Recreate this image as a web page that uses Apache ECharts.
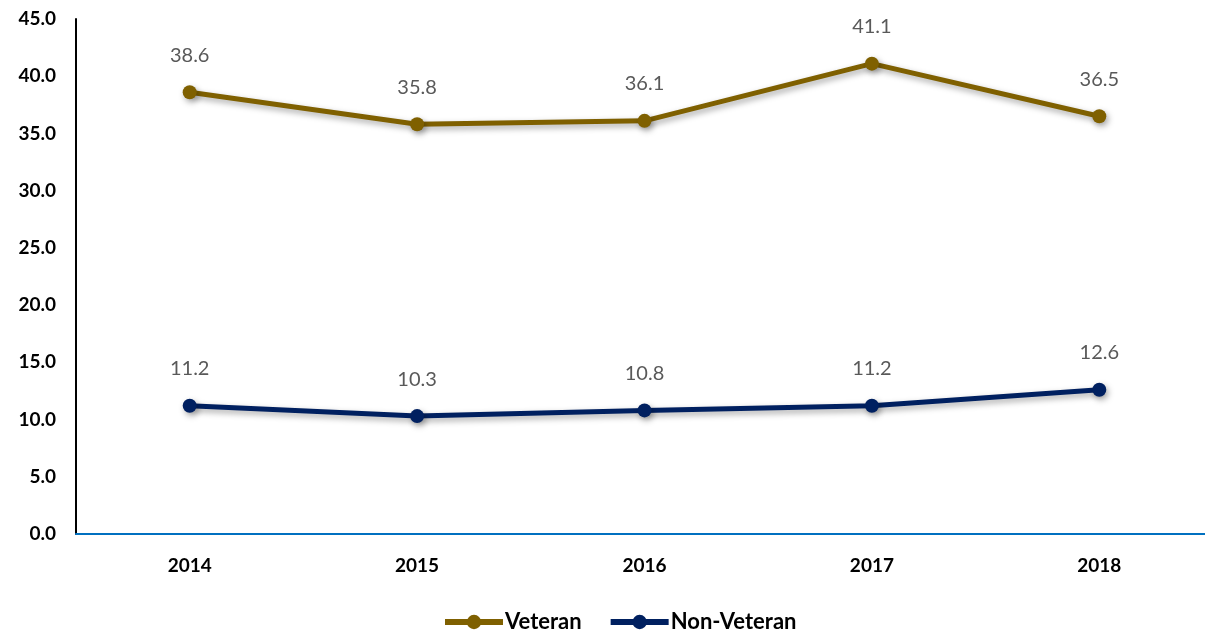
<!DOCTYPE html>
<html><head><meta charset="utf-8">
<script src="https://cdn.jsdelivr.net/npm/echarts@6/dist/echarts.min.js"></script>
<style>html,body{margin:0;padding:0;background:#fff;overflow:hidden}#c{width:1215px;height:630px}</style>
</head><body><div id="c"></div>
<script>
const categories = ['2014','2015','2016','2017','2018'];
const veteran = [38.6, 35.8, 36.1, 41.1, 36.5];
const nonVeteran = [11.2, 10.3, 10.8, 11.2, 12.6];
const seriesNames = ['Veteran','Non-Veteran'];
const colors = ['#7F6000','#002060'];
const FONT = 'Lato, "Open Sans", sans-serif';

const chart = echarts.init(document.getElementById('c'));
function mk(name, data, color){
  return {
    name, type:'line', data, color,
    symbol:'circle', symbolSize:14,
    lineStyle:{width:5, color, shadowColor:'rgba(0,0,0,0.35)', shadowBlur:6, shadowOffsetX:2, shadowOffsetY:3},
    itemStyle:{color, shadowColor:'rgba(0,0,0,0.35)', shadowBlur:6, shadowOffsetX:2, shadowOffsetY:3},
    label:{show:true, position:'top', distance:20, color:'#595959', fontSize:20, fontFamily:FONT,
      formatter:p=>p.value.toFixed(1)},
    emphasis:{disabled:true}, animation:false
  };
}
chart.setOption({
  animation:false,
  grid:{left:76, right:2, top:19, bottom:96},
  legend:{top:606, left:437, itemWidth:58, itemHeight:18, itemGap:26,
    lineStyle:{width:6, shadowBlur:0, shadowOffsetX:0, shadowOffsetY:0},
    itemStyle:{shadowBlur:0, shadowOffsetX:0, shadowOffsetY:0},
    textStyle:{fontFamily:FONT, fontWeight:'bold', fontSize:22, color:'#000', padding:[0,0,0,-3]},
    data:seriesNames},
  xAxis:{type:'category', data:categories, boundaryGap:true,
    axisLine:{lineStyle:{color:'#0070C0', width:2}}, axisTick:{show:false},
    axisLabel:{fontFamily:FONT, fontWeight:'bold', fontSize:19, color:'#000', margin:22}},
  yAxis:{type:'value', min:0, max:45, interval:5,
    axisLine:{show:true, lineStyle:{color:'#000', width:2}}, axisTick:{show:false},
    splitLine:{show:false},
    axisLabel:{fontFamily:FONT, fontWeight:'bold', fontSize:19, color:'#000', margin:20,
      formatter:v=>v.toFixed(1)}},
  series:[mk(seriesNames[0], veteran, colors[0]), mk(seriesNames[1], nonVeteran, colors[1])]
});
</script></body></html>
